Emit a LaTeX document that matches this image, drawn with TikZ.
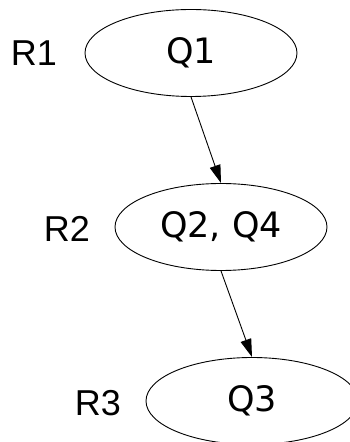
\documentclass[tikz,border=0pt]{standalone}
\usepackage{fontspec}
\newfontfamily\qfont{DejaVu Sans}
\newfontfamily\rfont{Liberation Sans}
\usetikzlibrary{shapes.geometric,arrows.meta}
\tikzset{
  query/.style={draw, ellipse, line width=0.9pt, minimum width=212pt, minimum height=87pt, inner sep=0pt, font=\qfont\fontsize{35}{40}\selectfont},
  rlabel/.style={inner sep=0pt, font=\rfont\fontsize{36}{40}\selectfont},
  link/.style={-{Triangle[length=18pt,width=11pt]}, line width=0.9pt}
}
\begin{document}
\begin{tikzpicture}[x=1pt, y=1pt]
	\clip (0,0) rectangle (350,442);
	\fill[white] (0,0) rectangle (350,442);
	\node[query] (q1) at (191,389) {Q1};
	\node[query] (q2) at (221,215) {Q2, Q4};
	\node[query] (q3) at (252,41) {Q3};
	\node[rlabel] (r1) at (34,389) {R1};
	\node[rlabel] (r2) at (67,213) {R2};
	\node[rlabel] (r3) at (98,39) {R3};
	\draw[link] (q1.south) -- (q2.north);
	\draw[link] (q2.south) -- (q3.north);
\end{tikzpicture}
\end{document}
